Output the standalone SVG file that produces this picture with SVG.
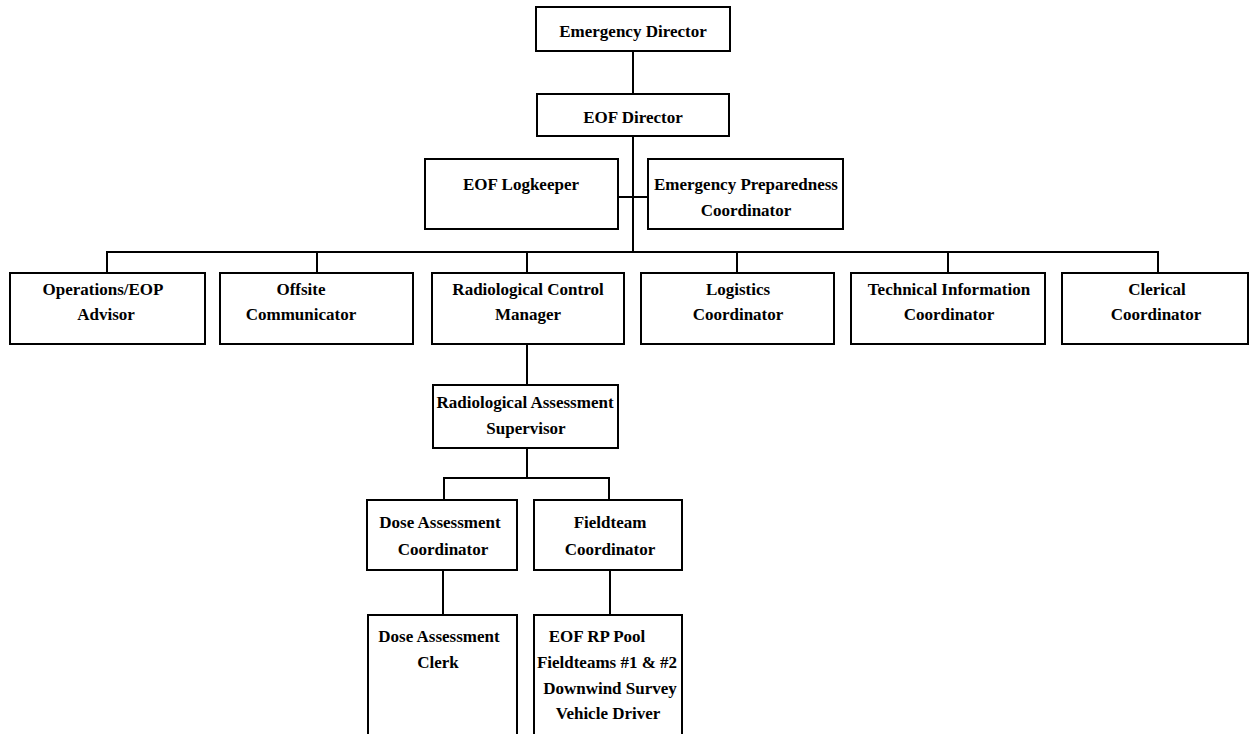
<svg xmlns="http://www.w3.org/2000/svg" width="1250" height="734" viewBox="0 0 1250 734">
<style>
.box{fill:#fff;stroke:#000;stroke-width:2}
.ln{fill:none;stroke:#000;stroke-width:2}
text{font-family:"Liberation Serif","Times New Roman",serif;font-weight:bold;font-size:17px;text-anchor:middle;fill:#000}
</style>
<rect width="1250" height="734" fill="#fff"/>
<g id="connectors" class="ln">
<path d="M633 51V94"/>
<path d="M633 136V252"/>
<path d="M618 197H648"/>
<path d="M107 273V252H1158V273"/>
<path d="M317 252V273M527 252V273M737 252V273M948 252V273"/>
<path d="M527 344V385"/>
<path d="M527 448V478"/>
<path d="M444 500V478H609V500"/>
<path d="M443 570V615"/>
<path d="M610 570V615"/>
</g>
<g id="emergency-director"><rect class="box" x="536" y="7" width="194" height="44"/><text x="633" y="37">Emergency Director</text></g>
<g id="eof-director"><rect class="box" x="537" y="94" width="192" height="42"/><text x="633" y="123">EOF Director</text></g>
<g id="eof-logkeeper"><rect class="box" x="425" y="159" width="193" height="70"/><text x="521" y="190">EOF Logkeeper</text></g>
<g id="ep-coordinator"><rect class="box" x="648" y="159" width="195" height="70"/><text x="746" y="190">Emergency Preparedness</text><text x="746" y="216">Coordinator</text></g>
<g id="operations"><rect class="box" x="10" y="273" width="195" height="71"/><text x="103" y="295">Operations/EOP</text><text x="106" y="320">Advisor</text></g>
<g id="offsite"><rect class="box" x="220" y="273" width="193" height="71"/><text x="301" y="295">Offsite</text><text x="301" y="320">Communicator</text></g>
<g id="rcm"><rect class="box" x="432" y="273" width="192" height="71"/><text x="528" y="295">Radiological Control</text><text x="528" y="320">Manager</text></g>
<g id="logistics"><rect class="box" x="641" y="273" width="193" height="71"/><text x="738" y="295">Logistics</text><text x="738" y="320">Coordinator</text></g>
<g id="technical"><rect class="box" x="851" y="273" width="194" height="71"/><text x="949" y="295">Technical Information</text><text x="949" y="320">Coordinator</text></g>
<g id="clerical"><rect class="box" x="1062" y="273" width="186" height="71"/><text x="1157" y="295">Clerical</text><text x="1156" y="320">Coordinator</text></g>
<g id="ras"><rect class="box" x="433" y="385" width="185" height="63"/><text x="525" y="408">Radiological Assessment</text><text x="526" y="434">Supervisor</text></g>
<g id="dac"><rect class="box" x="367" y="500" width="150" height="70"/><text x="440" y="528">Dose Assessment</text><text x="443" y="555">Coordinator</text></g>
<g id="fieldteam"><rect class="box" x="534" y="500" width="148" height="70"/><text x="610" y="528">Fieldteam</text><text x="610" y="555">Coordinator</text></g>
<g id="dose-clerk"><rect class="box" x="368" y="615" width="149" height="130"/><text x="439" y="642">Dose Assessment</text><text x="438" y="668">Clerk</text></g>
<g id="rp-pool"><rect class="box" x="534" y="615" width="148" height="130"/><text x="597" y="642">EOF RP Pool</text><text x="607" y="668">Fieldteams #1 &amp; #2</text><text x="610" y="694">Downwind Survey</text><text x="608" y="719">Vehicle Driver</text></g>
</svg>
